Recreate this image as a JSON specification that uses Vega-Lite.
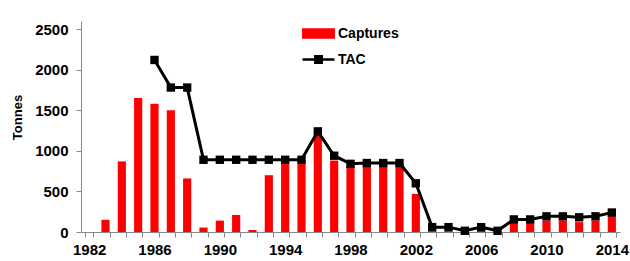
{
  "$schema": "https://vega.github.io/schema/vega-lite/v6.json",
  "autosize": {"type": "none"},
  "width": 539,
  "height": 211,
  "padding": {"left": 81, "top": 21, "right": 10, "bottom": 29},
  "background": "white",
  "config": {
    "view": {"stroke": null},
    "font": "Liberation Sans",
    "axis": {"labelFont": "Liberation Sans", "labelFontWeight": "bold", "labelFontSize": 15, "labelColor": "#000000", "domainColor": "#888888", "tickColor": "#888888", "tickSize": 5, "grid": false}
  },
  "data": {"values": [
    {"year": 1982, "captures": null, "tac": null},
    {"year": 1983, "captures": 150, "tac": null},
    {"year": 1984, "captures": 870, "tac": null},
    {"year": 1985, "captures": 1650, "tac": null},
    {"year": 1986, "captures": 1580, "tac": 2120},
    {"year": 1987, "captures": 1500, "tac": 1780},
    {"year": 1988, "captures": 660, "tac": 1780},
    {"year": 1989, "captures": 55, "tac": 890},
    {"year": 1990, "captures": 140, "tac": 890},
    {"year": 1991, "captures": 210, "tac": 890},
    {"year": 1992, "captures": 25, "tac": 890},
    {"year": 1993, "captures": 700, "tac": 890},
    {"year": 1994, "captures": 880, "tac": 890},
    {"year": 1995, "captures": 880, "tac": 890},
    {"year": 1996, "captures": 1200, "tac": 1240},
    {"year": 1997, "captures": 880, "tac": 940},
    {"year": 1998, "captures": 815, "tac": 840},
    {"year": 1999, "captures": 830, "tac": 850},
    {"year": 2000, "captures": 830, "tac": 850},
    {"year": 2001, "captures": 830, "tac": 850},
    {"year": 2002, "captures": 470, "tac": 600},
    {"year": 2003, "captures": 10, "tac": 60},
    {"year": 2004, "captures": 10, "tac": 60},
    {"year": 2005, "captures": 5, "tac": 15},
    {"year": 2006, "captures": 20, "tac": 60},
    {"year": 2007, "captures": 5, "tac": 15},
    {"year": 2008, "captures": 110, "tac": 155},
    {"year": 2009, "captures": 110, "tac": 155},
    {"year": 2010, "captures": 142, "tac": 193},
    {"year": 2011, "captures": 142, "tac": 193},
    {"year": 2012, "captures": 122, "tac": 181},
    {"year": 2013, "captures": 142, "tac": 193},
    {"year": 2014, "captures": 195, "tac": 240}
  ]},
  "encoding": {
    "x": {
      "field": "year", "type": "ordinal",
      "scale": {"domain": [1982,1983,1984,1985,1986,1987,1988,1989,1990,1991,1992,1993,1994,1995,1996,1997,1998,1999,2000,2001,2002,2003,2004,2005,2006,2007,2008,2009,2010,2011,2012,2013,2014], "paddingInner": 0.5, "paddingOuter": 0.25},
      "axis": {"title": null, "labelAngle": 0, "tickBand": "extent", "labelPadding": 5, "labelExpr": "(datum.value - 1982) % 4 === 0 ? datum.label : ''"}
    }
  },
  "layer": [
    {
      "mark": {"type": "bar"},
      "encoding": {
        "y": {"field": "captures", "type": "quantitative", "scale": {"domain": [0, 2500]},
          "axis": {"title": "Tonnes", "format": "d", "values": [0,500,1000,1500,2000,2500], "titleFont": "Liberation Sans", "titleFontWeight": "bold", "titleFontSize": 13, "titleColor": "#000000", "titlePadding": 10, "titleY": 96, "labelPadding": 8}},
        "color": {"datum": "Captures", "type": "nominal",
          "scale": {"domain": ["Captures", "TAC"], "range": ["#ff0000", "#000000"]},
          "legend": {
            "title": null, "orient": "none", "legendX": 228, "legendY": 3, "padding": 0,
            "symbolSize": 256, "rowPadding": 7, "labelOffset": 10,
            "labelFont": "Liberation Sans", "labelFontWeight": "bold", "labelFontSize": 14, "labelColor": "#000000",
            "encode": {"symbols": {"update": {
              "shape": {"signal": "datum.value === 'Captures' ? 'M-1.9,-0.5H1.9V0.5H-1.9Z' : 'M-2,0H2M-0.4,-0.4H0.4V0.4H-0.4Z'"},
              "fill": {"signal": "datum.value === 'Captures' ? '#ff0000' : '#000000'"},
              "stroke": {"signal": "datum.value === 'Captures' ? 'transparent' : '#000000'"},
              "strokeWidth": {"value": 2.5},
              "opacity": {"value": 1}
            }}}
          }
        }
      }
    },
    {
      "mark": {"type": "line", "strokeWidth": 3, "point": {"filled": true, "shape": "square", "size": 70, "opacity": 1}},
      "encoding": {
        "y": {"field": "tac", "type": "quantitative"},
        "color": {"datum": "TAC", "type": "nominal"}
      }
    }
  ]
}
